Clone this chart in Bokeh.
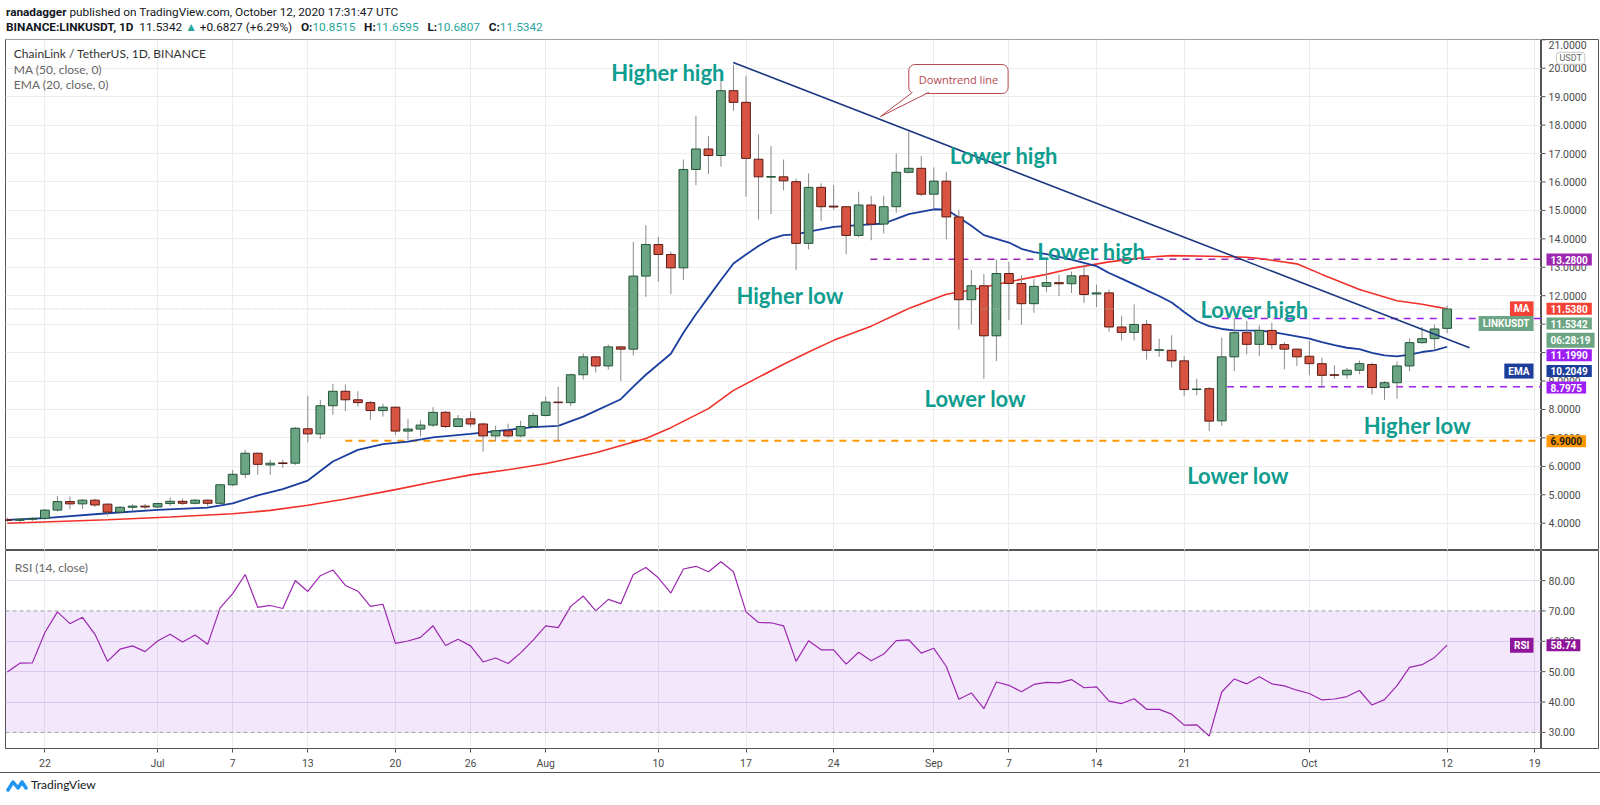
import pandas as pd
from bokeh.plotting import figure
from bokeh.models import (ColumnDataSource, Range1d, FixedTicker, Label, Span,
                          BoxAnnotation, Grid, Div)
from bokeh.layouts import column, row
from bokeh.embed import file_html
from bokeh.resources import INLINE
from bokeh.core.properties import value

# ---------------- data ----------------
first_day = "2020-06-19"
opens = [4.12, 4.10, 4.14, 4.17, 4.46, 4.76, 4.68, 4.81, 4.67, 4.39,
         4.56, 4.60, 4.57, 4.69, 4.77, 4.70, 4.81, 4.70, 5.35, 5.72,
         6.46, 6.05, 6.12, 6.11, 7.32, 7.14, 8.13, 8.64, 8.34, 8.24,
         7.96, 8.08, 7.24, 7.31, 7.45, 7.90, 7.40, 7.67, 7.49, 7.07,
         7.25, 7.07, 7.40, 7.79, 8.26, 8.24, 9.22, 9.85, 9.53, 10.20,
         10.12, 12.69, 13.80, 13.45, 12.98, 16.44, 17.16, 16.93, 19.21, 18.80,
         16.80, 16.17, 16.18, 16.01, 13.84, 15.81, 15.15, 15.13, 14.12, 15.19,
         14.52, 15.13, 16.34, 16.48, 15.57, 16.03, 14.77, 11.86, 12.35, 10.59,
         12.78, 12.43, 11.72, 12.33, 12.46, 12.42, 12.70, 12.06, 12.10, 10.90,
         10.71, 10.99, 10.08, 10.08, 9.71, 8.70, 8.73, 7.60, 9.85, 10.70,
         10.29, 10.78, 10.28, 10.12, 9.87, 9.61, 9.22, 9.22, 9.38, 9.58,
         8.77, 8.94, 9.53, 10.35, 10.49, 10.8515]
highs = [4.20, 4.18, 4.21, 4.49, 4.96, 4.94, 4.85, 4.86, 4.70, 4.60,
         4.66, 4.68, 4.72, 4.91, 4.86, 4.84, 4.84, 5.38, 5.87, 6.58,
         6.49, 6.23, 6.23, 7.38, 8.48, 8.34, 8.90, 8.88, 8.64, 8.30,
         8.20, 8.10, 7.66, 7.62, 8.08, 7.95, 7.80, 7.93, 7.52, 7.43,
         7.50, 7.60, 7.90, 8.45, 8.80, 9.26, 9.97, 9.87, 10.28, 10.22,
         13.89, 14.48, 14.07, 13.55, 16.79, 18.33, 17.62, 19.85, 20.12, 19.73,
         17.67, 17.26, 16.79, 16.12, 16.30, 15.95, 15.89, 15.14, 15.66, 15.51,
         15.51, 17.00, 17.77, 16.91, 16.51, 16.36, 15.01, 12.90, 12.76, 13.27,
         13.19, 12.72, 12.60, 13.27, 12.74, 12.85, 13.10, 12.39, 12.22, 11.29,
         11.69, 11.14, 10.49, 10.61, 9.88, 9.08, 8.79, 10.53, 11.20, 11.11,
         10.96, 11.05, 10.37, 10.14, 10.41, 9.82, 9.55, 9.46, 9.72, 9.65,
         9.00, 9.69, 10.49, 10.90, 10.98, 11.6595]
lows = [4.05, 4.04, 4.08, 4.12, 4.41, 4.49, 4.50, 4.58, 4.27, 4.36,
        4.42, 4.49, 4.52, 4.61, 4.64, 4.66, 4.59, 4.68, 5.30, 5.58,
        5.70, 5.70, 5.95, 6.05, 6.84, 6.96, 7.81, 7.94, 8.10, 7.63,
        7.75, 7.10, 6.90, 7.05, 7.38, 7.35, 7.38, 7.38, 6.52, 6.88,
        7.00, 7.02, 7.34, 7.75, 6.90, 8.12, 9.05, 9.30, 9.40, 9.00,
        9.90, 11.96, 12.49, 12.05, 12.55, 15.89, 16.28, 16.54, 18.50, 15.48,
        14.68, 14.87, 15.71, 12.90, 13.63, 14.63, 15.03, 13.46, 14.05, 13.95,
        14.19, 14.92, 16.30, 15.50, 15.07, 13.98, 10.81, 10.99, 9.08, 9.70,
        11.14, 10.98, 11.40, 12.13, 11.99, 12.10, 11.75, 11.60, 10.73, 10.43,
        10.43, 9.75, 9.85, 9.47, 8.47, 8.50, 7.24, 7.42, 9.35, 9.94,
        9.88, 10.12, 9.41, 9.53, 9.20, 8.77, 9.08, 9.08, 9.24, 8.53,
        8.34, 8.38, 9.35, 10.31, 10.08, 10.6807]
closes = [4.10, 4.14, 4.17, 4.46, 4.76, 4.68, 4.81, 4.64, 4.39, 4.56,
          4.60, 4.57, 4.69, 4.77, 4.70, 4.81, 4.70, 5.35, 5.72, 6.46,
          6.07, 6.11, 6.10, 7.34, 7.14, 8.13, 8.64, 8.34, 8.24, 7.96,
          8.08, 7.24, 7.31, 7.45, 7.90, 7.40, 7.67, 7.49, 7.07, 7.25,
          7.07, 7.40, 7.79, 8.26, 8.24, 9.22, 9.85, 9.53, 10.20, 10.12,
          12.69, 13.80, 13.45, 12.98, 16.44, 17.16, 16.93, 19.21, 18.80, 16.83,
          16.18, 16.19, 16.04, 13.84, 15.81, 15.13, 15.12, 14.12, 15.19, 14.52,
          15.13, 16.34, 16.48, 15.57, 16.03, 14.77, 11.86, 12.35, 10.59, 12.78,
          12.43, 11.72, 12.33, 12.46, 12.42, 12.70, 12.04, 12.10, 10.90, 10.71,
          10.99, 10.08, 10.10, 9.71, 8.70, 8.72, 7.59, 9.85, 10.70, 10.29,
          10.78, 10.28, 10.12, 9.85, 9.61, 9.20, 9.20, 9.38, 9.61, 8.77,
          8.94, 9.53, 10.35, 10.49, 10.83, 11.5342]
rsi_values = [49.9, 52.8, 52.9, 62.9, 69.7, 65.8, 67.9, 62.3, 53.4, 57.4,
              58.5, 56.6, 60.1, 62.3, 59.8, 62.1, 59.0, 71.0, 75.7, 82.0,
              71.2, 71.8, 70.8, 80.0, 76.4, 81.6, 83.5, 78.4, 76.5, 71.5,
              72.2, 59.3, 60.1, 61.3, 65.1, 58.6, 60.7, 58.5, 53.2, 54.5,
              52.7, 56.2, 60.4, 65.1, 64.5, 71.5, 74.9, 70.0, 73.8, 72.4,
              82.0, 84.3, 80.9, 75.9, 83.8, 84.7, 82.9, 86.2, 82.9, 69.7,
              66.2, 66.1, 65.1, 53.4, 60.2, 57.2, 57.2, 52.5, 56.4, 53.6,
              55.8, 60.2, 60.5, 56.1, 57.7, 51.7, 40.9, 43.0, 37.8, 46.6,
              45.5, 43.4, 45.8, 46.5, 46.3, 47.4, 44.7, 45.0, 40.3, 39.5,
              41.1, 37.6, 37.6, 36.0, 32.4, 32.5, 28.8, 43.3, 47.6, 46.0,
              48.3, 46.0, 45.3, 43.9, 42.8, 40.7, 41.0, 41.8, 43.8, 39.0,
              40.8, 45.4, 51.4, 52.3, 54.7, 58.74]
ema_dates = ["2020-06-19", "2020-06-22", "2020-06-27", "2020-07-01", "2020-07-05", "2020-07-07",
             "2020-07-09", "2020-07-11", "2020-07-13", "2020-07-15", "2020-07-17", "2020-07-19",
             "2020-07-21", "2020-07-23", "2020-07-26", "2020-07-29", "2020-07-31", "2020-08-02",
             "2020-08-04", "2020-08-07", "2020-08-08", "2020-08-09", "2020-08-11", "2020-08-12",
             "2020-08-13", "2020-08-14", "2020-08-15", "2020-08-16", "2020-08-17", "2020-08-18",
             "2020-08-19", "2020-08-20", "2020-08-21", "2020-08-22", "2020-08-24", "2020-08-26",
             "2020-08-28", "2020-08-29", "2020-08-30", "2020-09-01", "2020-09-02", "2020-09-03",
             "2020-09-04", "2020-09-05", "2020-09-06", "2020-09-07", "2020-09-08", "2020-09-09",
             "2020-09-10", "2020-09-12", "2020-09-14", "2020-09-15", "2020-09-16", "2020-09-17",
             "2020-09-18", "2020-09-19", "2020-09-20", "2020-09-21", "2020-09-22", "2020-09-23",
             "2020-09-24", "2020-09-25", "2020-09-27", "2020-09-28", "2020-09-29", "2020-09-30",
             "2020-10-01", "2020-10-02", "2020-10-03", "2020-10-04", "2020-10-05", "2020-10-06",
             "2020-10-07", "2020-10-08", "2020-10-09", "2020-10-10", "2020-10-11", "2020-10-12"]
ema_values = [4.12, 4.18, 4.35, 4.47, 4.55, 4.70, 4.98, 5.20, 5.50, 6.17, 6.58, 6.78,
              6.87, 7.02, 7.14, 7.28, 7.38, 7.42, 7.75, 8.36, 8.80, 9.22, 9.96, 10.70,
              11.35, 11.95, 12.55, 13.13, 13.45, 13.75, 14.00, 14.13, 14.16, 14.25, 14.42, 14.48,
              14.54, 14.70, 14.87, 15.04, 15.03, 14.75, 14.46, 14.13, 14.00, 13.87, 13.65, 13.53,
              13.46, 13.27, 13.04, 12.80, 12.60, 12.40, 12.19, 11.99, 11.76, 11.43, 11.11, 10.93,
              10.83, 10.78, 10.77, 10.73, 10.65, 10.57, 10.49, 10.37, 10.26, 10.17, 10.12, 9.99,
              9.90, 9.87, 9.93, 10.02, 10.08, 10.2049]
ma_dates = ["2020-06-19", "2020-06-27", "2020-07-02", "2020-07-07", "2020-07-10", "2020-07-13",
            "2020-07-16", "2020-07-20", "2020-07-23", "2020-07-26", "2020-07-29", "2020-08-01",
            "2020-08-05", "2020-08-09", "2020-08-11", "2020-08-14", "2020-08-16", "2020-08-20",
            "2020-08-22", "2020-08-24", "2020-08-27", "2020-08-30", "2020-09-02", "2020-09-04",
            "2020-09-07", "2020-09-10", "2020-09-12", "2020-09-15", "2020-09-18", "2020-09-20",
            "2020-09-23", "2020-09-26", "2020-09-27", "2020-09-30", "2020-10-02", "2020-10-05",
            "2020-10-08", "2020-10-10", "2020-10-12"]
ma_values = [4.00, 4.12, 4.22, 4.33, 4.45, 4.63, 4.85, 5.18, 5.45, 5.70, 5.88, 6.09,
             6.48, 6.98, 7.36, 8.03, 8.67, 9.59, 10.02, 10.43, 10.93, 11.55, 12.05, 12.20,
             12.49, 12.75, 12.96, 13.19, 13.35, 13.41, 13.39, 13.35, 13.31, 13.12, 12.75, 12.22,
             11.82, 11.70, 11.538]
trend_dates = ["2020-08-15 23:30", "2020-10-13 19:00"]
trend_prices = [20.20, 10.17]
level_prices = [13.28, 11.199, 8.7975, 6.90]
level_from = ["2020-08-26 22:30", "2020-09-24 00:00", "2020-09-24 10:00", "2020-07-16 00:00"]
level_colors = ["#9c27b0", "#9d1ff5", "#9d1ff5", "#ff9800"]
tick_dates = ["2020-06-22", "2020-07-01", "2020-07-07", "2020-07-13", "2020-07-20", "2020-07-26",
              "2020-08-01", "2020-08-10", "2020-08-17", "2020-08-24", "2020-09-01", "2020-09-07",
              "2020-09-14", "2020-09-21", "2020-10-01", "2020-10-12", "2020-10-19"]
tick_labels = ["22", "Jul", "7", "13", "20", "26", "Aug", "10", "17", "24", "Sep", "7",
               "14", "21", "Oct", "12", "19"]
price_ticks = list(range(4, 22))
rsi_ticks = [30, 40, 50, 60, 70, 80]
last_price = 11.5342

# annotation texts (day offset from Jun 22, price at text baseline)
ann_text = ["Higher high", "Lower high", "Lower high", "Lower high",
            "Higher low", "Lower low", "Lower low", "Higher low"]
ann_day = [45.23, 72.28, 79.26, 92.30, 55.24, 70.26, 91.24, 105.34]
ann_price = [19.845, 16.92, 13.54, 11.525, 12.02, 8.38, 5.66, 7.44]

# ---------------- helpers ----------------
DAY = 86400000.0


def ms(s):
    return pd.Timestamp(s).value / 1e6


base = ms("2020-06-22")


def at(d):
    return base + d * DAY


x_start, x_end = at(-3.147), at(119.54)
xr = Range1d(x_start, x_end)

UP_FILL, DN_FILL = "#6ba583", "#d75442"
UP_LINE, DN_LINE = "#225437", "#5b1a13"
AXIS_C = "#4a4a4a"
FRAME_C = "#555555"
GRID_C = "#ececec"
TEAL = "#0f9d8f"
FRAME_W = 1536
AX_W = 58

dates = pd.date_range(first_day, periods=len(opens), freq="D")
xs = [ms(t) for t in dates]
up = [c >= o for o, c in zip(opens, closes)]
src = ColumnDataSource(dict(
    x=xs, high=highs, low=lows,
    top=[max(o, c) for o, c in zip(opens, closes)],
    bottom=[min(o, c) for o, c in zip(opens, closes)],
    fill=[UP_FILL if u else DN_FILL for u in up],
    border=[UP_LINE if u else DN_LINE for u in up],
))
tick_ms = [int(ms(t)) for t in tick_dates]


def base_fig(**kw):
    f = figure(output_backend="svg", toolbar_location=None, min_border_top=0,
               min_border_right=0, background_fill_color="white", border_fill_color="white",
               outline_line_color=FRAME_C, **kw)
    for g in list(f.grid):
        g.visible = False
    return f


def axis_fig(yr, ticks, fmt, height, bottom=0, top_edge=False):
    a = base_fig(x_range=Range1d(0, AX_W), y_range=yr, frame_width=AX_W, frame_height=height,
                 x_axis_location=None, y_axis_location=None, min_border_left=0,
                 min_border_bottom=bottom)
    a.segment(x0=0, x1=4, y0=ticks, y1=ticks, line_color=FRAME_C, line_width=1)
    inner = ticks[:-1] if top_edge else ticks
    a.text(x=7, y=inner, text=[fmt % t for t in inner], text_font=value("Roboto"),
           text_font_size=value("10.5px"), text_color=AXIS_C, text_baseline="middle",
           text_align="left")
    if top_edge:
        # topmost tick label sits on the pane's top edge; keep it fully inside
        a.text(x=[7], y=[yr.end], text=[fmt % ticks[-1]], text_font=value("Roboto"),
               text_font_size=value("10.5px"), text_color=AXIS_C, text_baseline="top",
               text_align="left", y_offset=1)
    return a


def tag(axf, fig, yv, txt, bg, fg="#ffffff", left=None):
    axf.add_layout(Label(x=0, y=yv, text=txt, text_font="Roboto", text_font_size="10px",
                         text_font_style="bold", text_color=fg, background_fill_color=bg,
                         text_align="left", text_baseline="middle", x_offset=5,
                         padding=dict(left=4, right=4, top=2, bottom=2)))
    if left:
        fig.add_layout(Label(x=x_end, y=yv, text=left, text_font="Roboto", text_font_size="10px",
                             text_font_style="bold", text_color=fg, background_fill_color=bg,
                             text_align="right", text_baseline="middle", x_offset=-8,
                             padding=dict(left=4, right=4, top=2, bottom=2)))


# ---------------- price pane ----------------
p = base_fig(x_axis_type="datetime", x_axis_location=None, y_axis_location=None,
             frame_width=FRAME_W, frame_height=511, x_range=xr, y_range=Range1d(3.04, 21.01),
             min_border_left=5, min_border_bottom=0)
p.add_layout(Grid(dimension=0, ticker=FixedTicker(ticks=tick_ms), grid_line_color=GRID_C))
p.add_layout(Grid(dimension=1, ticker=FixedTicker(ticks=price_ticks), grid_line_color=GRID_C))
p.add_layout(Span(location=last_price, dimension="width", line_color="#a9c2b4",
                  line_dash="1 2", line_width=1))

for lv, lf, lc in zip(level_prices, level_from, level_colors):
    p.segment(x0=[ms(lf)], x1=[x_end + DAY], y0=[lv], y1=[lv], line_color=lc,
              line_width=2 if lc == "#ff9800" else 1.5, line_dash="7 6")

p.line([ms(d) for d in ma_dates], ma_values, line_color="#f2302a", line_width=1.6)
p.line([ms(d) for d in ema_dates], ema_values, line_color="#1a3e9e", line_width=1.8)

p.segment(x0="x", y0="high", x1="x", y1="low", source=src, line_color="#8a8a8c", line_width=1)
p.vbar(x="x", width=0.7 * DAY, top="top", bottom="bottom", source=src,
       fill_color="fill", line_color="border", line_width=1)

p.line([ms(d) for d in trend_dates], trend_prices, line_color="#1c3880", line_width=1.6)

p.text(x=[at(d) for d in ann_day], y=ann_price, text=ann_text,
       text_font=value("Lato"), text_font_size=value("22px"), text_font_style="bold",
       text_color=TEAL, text_baseline="alphabetic", text_align="left")

CALL_C = "#b5494e"
p.patch([at(69.3), at(70.6), at(66.74)], [19.17, 19.17, 18.30], fill_color="white",
        line_color=None, level="overlay")
p.segment(x0=[at(69.3), at(70.6)], y0=[19.15, 19.15], x1=[at(66.74), at(66.74)],
          y1=[18.30, 18.30], line_color=CALL_C, line_width=1, level="overlay")
p.add_layout(Label(x=at(72.97), y=19.62, text="Downtrend line", text_font="Open Sans",
                   text_font_size="11px", text_color=CALL_C, text_align="center",
                   text_baseline="middle", background_fill_color="white",
                   border_line_color=CALL_C, border_line_width=1, border_radius=6,
                   padding=dict(left=10, right=10, top=7, bottom=7)))

for yy, txt, col in [(20.53, "ChainLink / TetherUS, 1D, BINANCE", "#333333"),
                     (19.94, "MA (50, close, 0)", "#666666"),
                     (19.44, "EMA (20, close, 0)", "#666666")]:
    p.add_layout(Label(x=at(-2.48), y=yy, text=txt, text_font="Lato", text_font_size="12px",
                       text_color=col, text_baseline="middle", text_align="left"))

pa = axis_fig(p.y_range, price_ticks, "%.4f", 511, top_edge=True)
tag(pa, p, 13.27, "13.2800", "#9c27b0")
tag(pa, p, 11.538, "11.5380", "#f44336", left="MA")
tag(pa, p, 11.02, "11.5342", "#6ba583", left="LINKUSDT")
tag(pa, p, 10.43, "06:28:19", "#6ba583")
tag(pa, p, 9.905, "11.1990", "#9d1ff5")
tag(pa, p, 9.35, "10.2049", "#1c3d99", left="EMA")
tag(pa, p, 8.77, "8.7975", "#9d1ff5")
tag(pa, p, 6.88, "6.9000", "#ff9800", fg="#1a1a1a")
pa.add_layout(Label(x=0, y=20.35, text="USDT", text_font="Roboto", text_font_size="9px",
                    text_color="#666666", background_fill_color="white",
                    border_line_color="#c8c8c8", border_radius=3, text_align="left",
                    text_baseline="middle", x_offset=15,
                    padding=dict(left=3, right=3, top=1, bottom=1)))

# ---------------- RSI pane ----------------
r = base_fig(x_axis_type="datetime", y_axis_location=None,
             frame_width=FRAME_W, frame_height=198, x_range=xr, y_range=Range1d(24.7, 89.9),
             min_border_left=5, min_border_bottom=24)
xa = r.xaxis[0]
xa.ticker = FixedTicker(ticks=tick_ms)
xa.major_label_overrides = {t: lab for t, lab in zip(tick_ms, tick_labels)}
xa.major_label_text_font = "Roboto"
xa.major_label_text_font_size = "10.5px"
xa.major_label_text_color = AXIS_C
xa.axis_line_color = FRAME_C
xa.major_tick_line_color = FRAME_C
xa.major_tick_out = 4
xa.major_tick_in = 0
xa.minor_tick_out = 0
xa.minor_tick_in = 0
xa.major_label_standoff = 4
r.add_layout(Grid(dimension=0, ticker=FixedTicker(ticks=tick_ms), grid_line_color=GRID_C))
r.add_layout(Grid(dimension=1, ticker=FixedTicker(ticks=[40, 50, 60, 80]),
                  grid_line_color="#e6dcef"))
r.add_layout(BoxAnnotation(bottom=30, top=70, fill_color="#7e00d0", fill_alpha=0.09,
                           line_color=None, level="underlay"))
for lv in (70, 30):
    r.add_layout(Span(location=lv, dimension="width", line_color="#a0a0a0",
                      line_dash="4 3", line_width=1))
r.line(xs, rsi_values, line_color="#9c27b0", line_width=1.2)
r.add_layout(Label(x=at(-2.4), y=84.4, text="RSI (14, close)", text_font="Lato",
                   text_font_size="12px", text_color="#666666", text_baseline="middle"))

ra = axis_fig(r.y_range, rsi_ticks, "%.2f", 198, bottom=24)
tag(ra, r, 58.74, "58.74", "#8e1599", left="RSI")

# ---------------- header / footer ----------------
G = "#26a69a"
header = Div(text=(
    '<div style="font-family:Roboto;font-size:11.8px;color:#131722;line-height:15px;'
    'white-space:nowrap;padding:5px 0 0 6px">'
    '<div><b>ranadagger</b> published on TradingView.com, October 12, 2020 17:31:47 UTC</div>'
    '<div><b>BINANCE:LINKUSDT, 1D</b>&nbsp; 11.5342 <span style="color:%s">&#9650;</span> '
    '+0.6827 (+6.29%%)&nbsp;&nbsp; <b>O:</b><span style="color:%s">10.8515</span>&nbsp;&nbsp; '
    '<b>H:</b><span style="color:%s">11.6595</span>&nbsp;&nbsp; <b>L:</b><span style="color:%s">10.6807</span>&nbsp;&nbsp; '
    '<b>C:</b><span style="color:%s">11.5342</span></div></div>') % (G, G, G, G, G),
    width=1600, height=39, margin=(0, 0, 0, 0))
footer = Div(text=(
    '<div style="border-top:1.5px solid #555555;width:1600px;height:24px;'
    'font-family:Lato;font-size:12px;color:#131722;display:flex;align-items:center;'
    'gap:3px;padding-left:6px">'
    '<svg width="22" height="16" viewBox="0 0 22 16"><path d="M2 13 L7 5 L12 11 L16 5 L20 11" '
    'stroke="#2196f3" stroke-width="3.5" fill="none" stroke-linejoin="round" '
    'stroke-linecap="round"/></svg><span>TradingView</span></div>'),
    width=1600, height=26, margin=(0, 0, 0, 0))

layout = column(header, row(p, pa, spacing=0), row(r, ra, spacing=0), footer, spacing=0)
open("out.html", "w").write(file_html(layout, INLINE, title="LINKUSDT"))
